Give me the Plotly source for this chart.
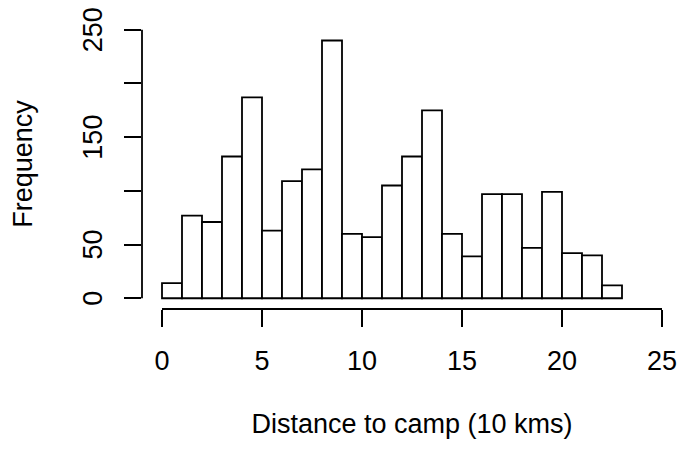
import plotly.graph_objects as go

WIDTH = 685
HEIGHT = 451

# histogram counts, one bin per unit from 0 to 23
bin_starts = list(range(0, 23))
counts = [14, 77, 71, 132, 187, 63, 109, 120, 240, 60, 57, 105,
          132, 175, 60, 39, 97, 97, 47, 99, 42, 40, 12]

x_ticks = [0, 5, 10, 15, 20, 25]
y_ticks = [0, 50, 100, 150, 200, 250]
y_ticktext = ["0", "50", "", "150", "", "250"]

FONT = "Liberation Sans, Arial, Helvetica, sans-serif"

fig = go.Figure(go.Bar(
    x=[b + 0.5 for b in bin_starts],
    y=counts,
    width=1,
    marker=dict(color="white", line=dict(color="black", width=1.8)),
))

# R-style detached axis lines
fig.add_shape(type="line", xref="x", yref="paper", x0=x_ticks[0], x1=x_ticks[-1], y0=0, y1=0,
              line=dict(color="black", width=1.8))
fig.add_shape(type="line", xref="paper", yref="y", x0=0, x1=0, y0=y_ticks[0], y1=y_ticks[-1],
              line=dict(color="black", width=1.8))

# page body adds an 8px offset, margins are shifted to compensate
fig.update_layout(
    width=WIDTH,
    height=HEIGHT,
    margin=dict(l=134, r=11, t=11, b=150),
    plot_bgcolor="white",
    paper_bgcolor="white",
    showlegend=False,
    font=dict(family=FONT, size=27, color="black"),
    xaxis=dict(
        range=[-1, 26],
        tickvals=x_ticks,
        ticks="outside",
        ticklen=17,
        tickwidth=1.8,
        tickcolor="black",
        showgrid=False,
        zeroline=False,
        showline=False,
        automargin=False,
        ticklabelstandoff=11,
        ticklabeloverflow="allow",
        title=dict(text="Distance to camp (10 kms)", standoff=38, font=dict(size=27)),
    ),
    yaxis=dict(
        range=[-10, 260],
        tickvals=y_ticks,
        ticktext=y_ticktext,
        tickangle=-90,
        ticks="outside",
        ticklen=17,
        tickwidth=1.8,
        tickcolor="black",
        showgrid=False,
        zeroline=False,
        showline=False,
        automargin=False,
        ticklabelstandoff=11,
        ticklabelshift=4,
        ticklabeloverflow="allow",
        title=dict(text="Frequency", standoff=38, font=dict(size=27)),
    ),
)

fig.write_html("out.html")
